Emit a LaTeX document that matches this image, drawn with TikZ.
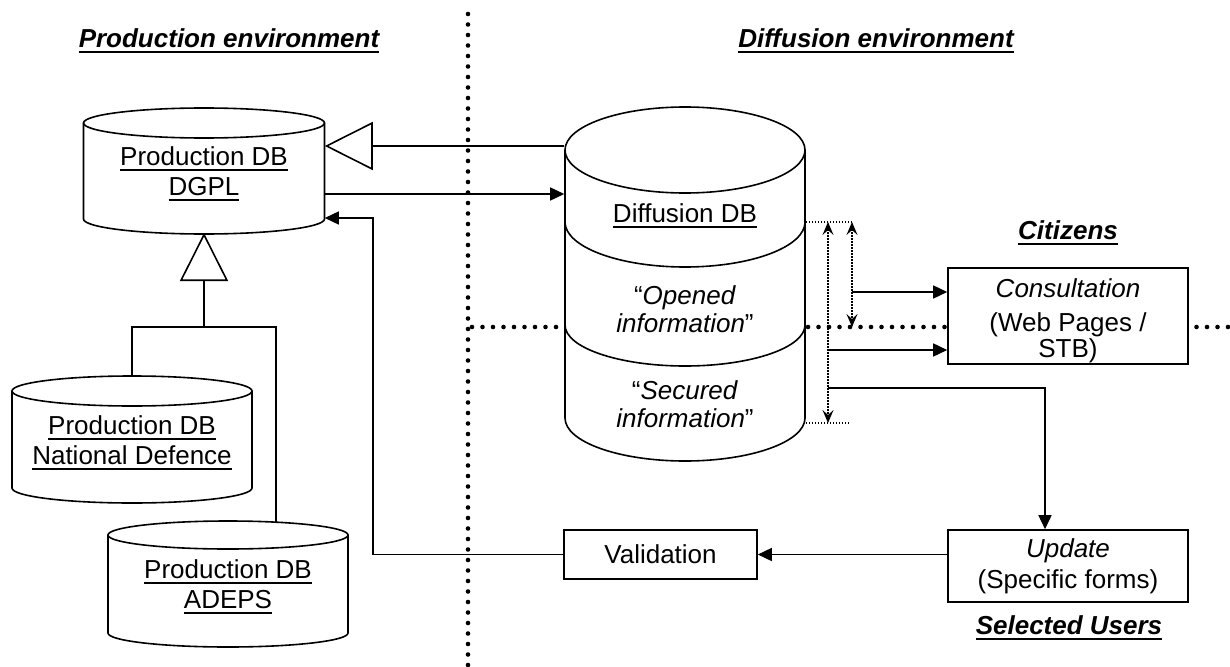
\documentclass[tikz,border=0pt]{standalone}
\usepackage{fontspec}
\setmainfont{Liberation Sans}
\usetikzlibrary{arrows.meta,calc}
\newcommand\uln[1]{\setbox0\hbox{#1}\rlap{\rule[-6pt]{\wd0}{2pt}}\box0}
\newcommand\dbcyl[5]{% cx, ytop, ybot, rx, ry
  \draw[fill=white] ({#1-#4},#2) -- ({#1-#4},#3)
    arc[start angle=180,end angle=360,x radius=#4pt,y radius=#5pt]
    -- ({#1+#4},#2)
    arc[start angle=0,end angle=180,x radius=#4pt,y radius=#5pt] -- cycle;
  \draw ({#1-#4},#2) arc[start angle=180,end angle=360,x radius=#4pt,y radius=#5pt];}
\begin{document}
\begin{tikzpicture}[x=1pt,y=-1pt,line width=1.6pt,
  font=\fontsize{26}{30}\selectfont,
  lbl/.style={inner sep=0pt,align=center},
  ttl/.style={inner sep=0pt,align=center,font=\fontsize{26}{30}\selectfont\bfseries\itshape},
  boxn/.style={draw,fill=white,inner sep=0pt,align=center},
  body/.style={inner sep=0pt,align=center,minimum width=240pt},
  sep/.style={line width=4.6pt,dash pattern=on 0pt off 10.5pt,line cap=round},
  fine/.style={line width=1.2pt,dash pattern=on 1.4pt off 1.6pt},
  arr/.style={-{Triangle[length=14pt,width=13pt]}},
  gen/.style={-{Triangle[open,length=48pt,width=48pt]}},
  dbl/.style={fine,{Stealth[length=13pt,width=11pt,inset=5pt]}-{Stealth[length=13pt,width=11pt,inset=5pt]}}]
\useasboundingbox (0,0) rectangle (1230,666);

% horizontal separator (behind shapes)
\coordinate (hs1) at (472,327);
\coordinate (hs2) at (1232,327);
\draw[sep] (hs1) -- (hs2);

% titles
\node[ttl] (t1) at (229,41) {\uln{Production environment}};
\node[ttl] (t2) at (876,41) {\uln{Diffusion environment}};
\node[ttl] (cit) at (1068,233) {\uln{Citizens}};
\node[ttl] (sel) at (1069,628) {\uln{Selected Users}};

% cylinders
\dbcyl{204}{123}{219}{120.5}{15}
\node[body,minimum height=96pt] (dgpl) at (204,174) {\uln{Production DB}\\\uln{DGPL}};
\coordinate (dgplbot) at (204,233);

\dbcyl{132}{391}{488}{120}{15}
\node[body,minimum height=97pt] (natdef) at (132,443) {\uln{Production DB}\\\uln{National Defence}};
\coordinate (ndtop) at (132,376);

\dbcyl{228}{535}{633}{120}{14}
\node[body,minimum height=98pt] (adeps) at (228,587) {\uln{Production DB}\\\uln{ADEPS}};
\coordinate (adtop) at (276,522);

\dbcyl{685}{150}{418}{120}{43}
\draw (565,222) arc[start angle=180,end angle=360,x radius=120pt,y radius=45pt];
\draw (565,325) arc[start angle=180,end angle=360,x radius=120pt,y radius=41pt];
\node[body,minimum height=268pt] (diff) at (685,284) {};
\node[lbl] (diffdb) at (685,216) {\uln{Diffusion DB}};
\node[lbl] (opened) at (685,309) {“\textit{Opened}\\[-2pt]\textit{information}”};
\node[lbl] (secured) at (685,404) {“\textit{Secured}\\[-2pt]\textit{information}”};

% boxes
\node[boxn,minimum width=240pt,minimum height=96pt] (cons) at (1068,316) {};
\node[lbl] (constxt) at (1068,321)
  {\textit{Consultation}\\[4pt](Web Pages /\\[-4pt]STB)};
\node[boxn,minimum width=193pt,minimum height=49pt] (val) at (660.5,554.5) {Validation};
\node[boxn,minimum width=240pt,minimum height=72pt] (upd) at (1068,566)
  {\textit{Update}\\[1pt](Specific forms)};

% production links
\coordinate (r146) at (0,146);
\coordinate (r194) at (0,194);
\coordinate (ret) at (373,218);
\draw[gen] (diff.west |- r146) -- (dgpl.east |- r146);
\draw[arr] (dgpl.east |- r194) -- (diff.west |- r194);
\draw[arr] (val.west) -| (ret) -- (dgpl.east |- ret);
\coordinate (jn) at (204,327);
\draw (ndtop) |- (jn) -| (adtop);
\draw[gen] (jn) -- (dgplbot);

% diffusion side
\coordinate (dA) at (828,222);
\coordinate (dB) at (828,423);
\coordinate (dC) at (852,222);
\coordinate (dD) at (852,327);
\coordinate (dE) at (850,423);
\draw[fine] (diff.east |- dC) -- (dC);
\draw[fine] (diff.east |- dE) -- (dE);
\draw[dbl] (dA) -- (dB);
\draw[dbl] (dC) -- (dD);
\coordinate (c1) at (852,292);
\coordinate (c2) at (828,350);
\coordinate (c3) at (828,388);
\coordinate (c4) at (1045,388);
\draw[arr] (c1) -- (cons.west |- c1);
\draw[arr] (c2) -- (cons.west |- c2);
\draw[arr] (c3) -- (c4) -- (c4 |- upd.north);
\draw[arr] (upd.west |- val.east) -- (val.east);

% vertical separator
\coordinate (vs1) at (468,14);
\coordinate (vs2) at (468,668);
\draw[sep] (vs1) -- (vs2);
\end{tikzpicture}
\end{document}
